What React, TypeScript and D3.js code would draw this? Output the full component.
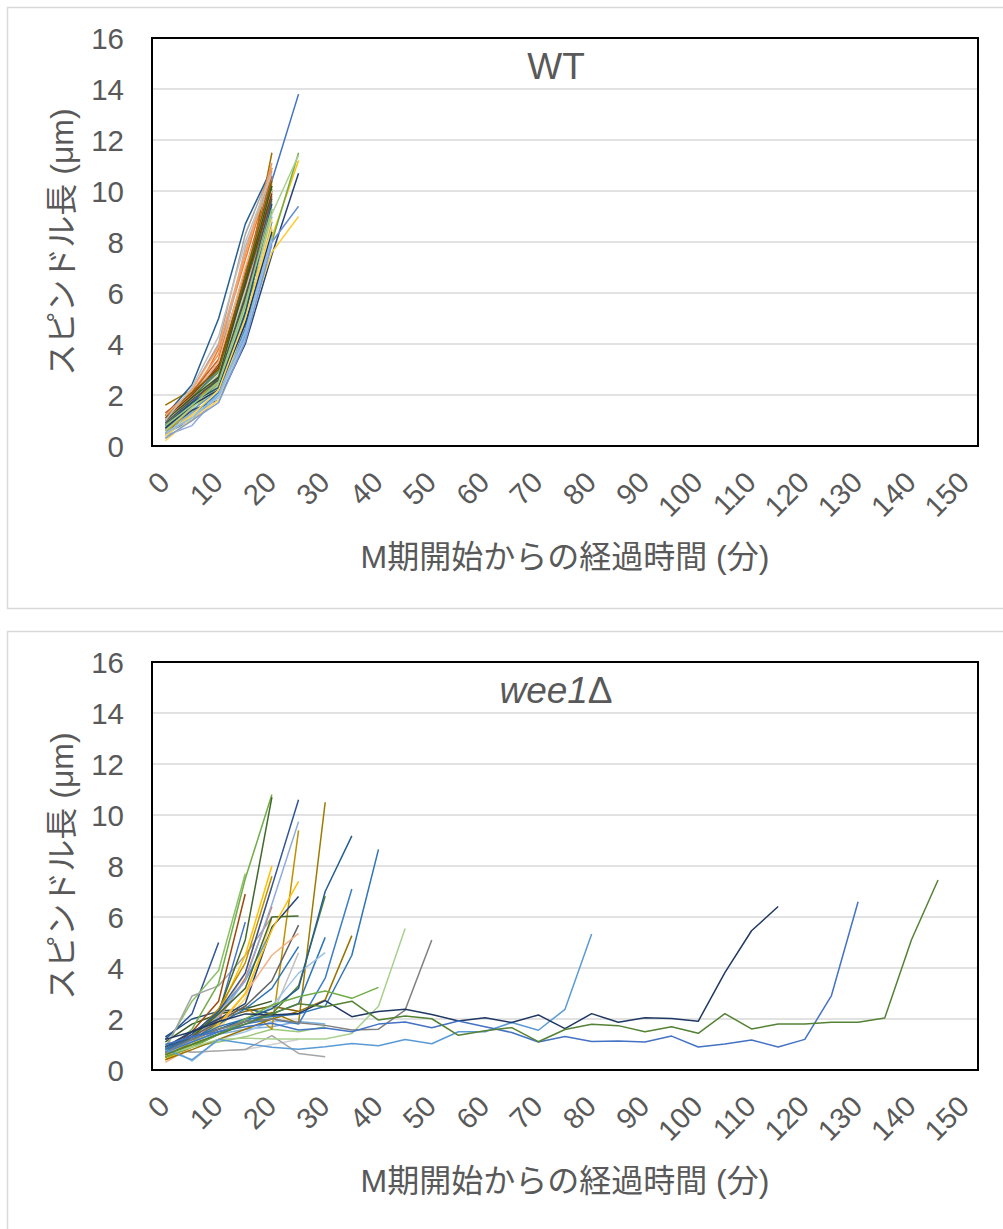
import React from 'react';
import * as d3 from 'd3';

const categories = [0, 5, 10, 15, 20, 25, 30, 35, 40, 45, 50, 55, 60, 65, 70, 75, 80, 85, 90, 95, 100, 105, 110, 115, 120, 125, 130, 135, 140, 145, 150];
const xTickLabels = [0, 10, 20, 30, 40, 50, 60, 70, 80, 90, 100, 110, 120, 130, 140, 150];
const yTicks = [0, 2, 4, 6, 8, 10, 12, 14, 16];

// WT: spindle length (µm) every 5 min from M-phase onset
const wtSeries: number[][] = [
  [0.8, 1.9, 3.0, 6.5, 10.4, 13.8],
  [0.9, 1.8, 3.8, 7.3, 10.8],
  [1.0, 2.2, 4.0, 8.3, 10.9],
  [0.4, 1.3, 2.5, 5.8, 8.2, 11.2],
  [0.6, 1.4, 2.2, 4.8, 9.0],
  [0.7, 1.6, 2.6, 5.5, 8.0, 11.5],
  [0.5, 1.4, 1.8, 4.0, 7.5, 10.7],
  [1.0, 2.0, 3.2, 6.6, 10.2],
  [0.7, 1.7, 2.4, 5.7, 9.3],
  [1.6, 2.2, 3.0, 6.2, 11.5],
  [1.2, 2.4, 5.0, 8.7, 10.9],
  [0.9, 1.8, 2.6, 5.9, 10.0],
  [0.5, 1.0, 2.0, 4.3, 8.0, 9.4],
  [1.1, 2.1, 3.6, 7.5, 11.1],
  [0.8, 1.9, 3.3, 7.8, 10.5],
  [0.3, 1.0, 1.8, 4.5, 7.6, 9.0],
  [0.6, 1.3, 2.0, 4.4, 8.5],
  [0.7, 1.5, 2.3, 5.1, 9.6],
  [0.9, 1.7, 2.7, 5.3, 9.2],
  [1.3, 2.1, 3.4, 6.9, 10.6],
  [0.6, 1.6, 2.5, 5.6, 9.8],
  [0.5, 1.5, 2.8, 6.3, 10.3],
  [0.4, 1.2, 2.1, 4.6, 8.8],
  [0.8, 1.9, 2.9, 6.0, 10.1],
  [0.4, 0.8, 2.0, 5.0, 8.3],
  [1.0, 2.0, 3.3, 7.0, 10.0],
  [0.9, 1.8, 2.8, 6.1, 9.4],
  [0.2, 1.1, 1.8, 4.9, 8.9],
  [0.5, 1.2, 1.9, 4.2, 8.1],
  [0.6, 1.5, 2.4, 5.4, 9.1, 11.4],
  [0.7, 1.6, 2.2, 4.8, 8.4],
  [1.1, 2.0, 3.1, 6.3, 9.9],
  [0.9, 1.8, 2.6, 5.8, 9.7],
  [1.2, 2.1, 3.0, 6.7, 10.4],
  [0.8, 1.7, 2.3, 5.2, 9.5],
  [1.0, 1.9, 2.7, 6.4, 10.2],
  [0.3, 1.0, 1.7, 4.1, 7.9],
  [1.2, 2.2, 3.9, 7.6, 10.9],
  [1.0, 2.3, 4.3, 8.0, 10.7],
  [0.4, 1.2, 2.2, 5.0, 8.6],
  [0.5, 1.1, 2.0, 4.5, 8.2],
  [0.8, 1.6, 2.5, 5.6, 9.3],
];
const wtColors = [
  '#4472C4', '#ED7D31', '#A5A5A5', '#FFC000', '#5B9BD5', '#70AD47',
  '#264478', '#9E480E', '#636363', '#997300', '#255E91', '#43682B',
  '#698ED0', '#F1975A', '#B7B7B7', '#FFCD33', '#7CAFDD', '#8CC168',
  '#365C9E', '#BE6428', '#848484', '#CC9A00', '#327DC2', '#5A8A39',
  '#8FAADC', '#F4B183', '#C9C9C9', '#FFD966', '#9DC3E6', '#A9D18E',
  '#203864', '#843C0C', '#525252', '#7F6000', '#1F4E79', '#385723',
  '#7C9CD6', '#F2A46F', '#C0C0C0', '#FFD34D', '#8CB9E2', '#9BC97B',
];

// wee1Δ
const wee1Series: number[][] = [
  [1.3, 2.0, 2.3, 2.4, 2.2],
  [0.9, 1.5, 2.0, 2.3, 2.5, 2.3],
  [1.1, 1.8, 2.2, 2.4, 2.7],
  [0.7, 1.2, 1.4, 1.6, 1.7, 1.9, 1.8],
  [1.0, 1.3, 1.5, 1.9, 2.0],
  [0.6, 0.9, 1.1, 1.3, 1.6, 1.5, 1.7],
  [0.8, 0.7, 0.75, 0.8, 1.0, 1.2],
  [1.0, 0.35, 1.2, 1.5, 1.9, 1.9],
  [0.9, 0.7, 0.75, 0.8, 1.35, 0.65, 0.52],
  [0.8, 1.2, 1.6, 1.9, 2.1, 4.6],
  [1.2, 2.2, 5.0],
  [0.9, 2.7, 3.9, 7.7],
  [0.8, 2.9, 3.3, 4.5, 6.0],
  [0.7, 1.5, 2.7, 6.9],
  [0.6, 1.3, 2.2, 5.8],
  [0.7, 1.6, 3.4, 7.5, 10.8],
  [0.6, 1.2, 2.3, 5.1, 10.7],
  [0.5, 1.2, 2.2, 4.5, 8.0],
  [0.5, 1.1, 2.0, 3.6, 6.4],
  [0.6, 1.2, 2.1, 3.8, 7.2],
  [0.4, 1.0, 1.6, 2.8, 5.9],
  [0.7, 1.4, 2.3, 3.5, 5.5],
  [0.6, 1.3, 2.4, 4.2, 7.6],
  [0.8, 1.4, 2.3, 3.8, 7.2, 10.6],
  [0.6, 1.2, 2.1, 3.5, 6.5, 9.74],
  [0.5, 1.1, 1.9, 2.5, 1.6, 9.4],
  [0.9, 1.5, 2.0, 2.6, 5.6, 6.8],
  [0.7, 1.3, 2.2, 3.2, 6.0, 6.04],
  [0.8, 1.3, 1.9, 2.5, 3.5, 5.68],
  [0.3, 0.9, 1.7, 3.0, 4.5, 5.36],
  [0.7, 1.2, 1.8, 2.4, 3.2, 4.84],
  [0.4, 1.0, 1.8, 3.0, 5.5, 7.4],
  [0.5, 0.9, 1.4, 1.9, 2.26, 1.83, 10.5],
  [0.6, 1.0, 1.4, 1.8, 2.2, 3.3, 6.82],
  [0.8, 1.2, 1.6, 1.9, 2.2, 2.6, 5.2],
  [0.7, 1.1, 1.5, 1.8, 2.5, 3.8, 4.6],
  [0.9, 1.3, 1.6, 2.0, 2.4, 3.2, 7.0, 9.18],
  [0.7, 1.1, 1.5, 1.8, 2.0, 1.8, 3.6, 7.1],
  [0.4, 0.8, 1.2, 1.6, 2.0, 2.3, 2.75, 5.27],
  [0.8, 1.2, 1.7, 2.0, 2.1, 2.2, 2.5, 4.5, 8.65],
  [0.5, 0.9, 1.4, 2.0, 2.55, 2.87, 3.1, 2.81, 3.24],
  [0.6, 0.9, 1.2, 1.25, 1.22, 1.22, 1.22, 1.43, 2.5, 5.55],
  [0.7, 1.2, 1.6, 1.9, 2.0, 1.85, 1.75, 1.57, 1.6, 2.35, 5.1],
  [0.8, 0.4, 1.2, 1.04, 0.89, 0.81, 0.91, 1.04, 0.95, 1.2, 1.03, 1.5, 1.5, 1.86, 1.56, 2.38, 5.33],
  [1.2, 1.5, 1.9, 2.2, 2.16, 2.22, 2.72, 2.09, 2.29, 2.38, 2.18, 1.92, 2.05, 1.86, 2.16, 1.62, 2.21, 1.87, 2.05, 2.02, 1.91, 3.82, 5.46, 6.41],
  [1.0, 1.3, 1.5, 1.7, 1.83, 1.57, 1.65, 1.5, 1.80, 1.88, 1.66, 1.92, 1.70, 1.47, 1.10, 1.31, 1.12, 1.14, 1.10, 1.33, 0.90, 1.02, 1.18, 0.90, 1.20, 2.92, 6.60],
  [0.6, 1.0, 1.4, 1.8, 2.2, 2.6, 2.48, 2.7, 1.96, 2.12, 2.01, 1.36, 1.54, 1.66, 1.11, 1.59, 1.79, 1.74, 1.50, 1.70, 1.44, 2.21, 1.61, 1.80, 1.80, 1.87, 1.87, 2.04, 5.1, 7.45],
];
const wee1Colors = [
  '#1F4E79', '#7F6000', '#385723', '#7CAFDD', '#C9C9C9', '#9BC97B',
  '#D0D0D0', '#9DC3E6', '#A5A5A5', '#BFBFBF', '#2F5597', '#8CC168',
  '#A5A5A5', '#9E480E', '#4472C4', '#70AD47', '#43682B', '#FFC000',
  '#ED7D31', '#F4B183', '#FFD966', '#5B9BD5', '#BF9000', '#2F5597',
  '#8FAADC', '#BF9000', '#264478', '#43682B', '#636363', '#F4B183',
  '#2E75B6', '#FFC000', '#9C7A00', '#548235', '#2E75B6', '#9DC3E6',
  '#255E91', '#3D7CC9', '#997300', '#2E75B6', '#70AD47', '#A9D18E',
  '#7F7F7F', '#5B9BD5', '#203864', '#4472C4', '#548235',
];

const FONT = '"Liberation Sans", Arial, "Noto Sans CJK JP", sans-serif';
const TEXT = '#595959';
const PLOT_LEFT = 152;
const PLOT_RIGHT = 978;
const PLOT_H = 408;

function Panel({ top, series, colors, title }: { top: number; series: number[][]; colors: string[]; title: React.ReactNode }) {
  const plotTop = top + 31;
  const plotBottom = plotTop + PLOT_H;
  const x = d3.scalePoint<number>().domain(categories).range([PLOT_LEFT, PLOT_RIGHT]).padding(0.5);
  const y = d3.scaleLinear().domain([0, 16]).range([plotBottom, plotTop]);
  const line = d3.line<number>().x((_, i) => x(categories[i]) as number).y((d) => y(d));
  const midY = (plotTop + plotBottom) / 2;
  return (
    <g>
      <rect x={7.5} y={top + 0.5} width={1010} height={601} fill="#fff" stroke="#D9D9D9" strokeWidth={1.5} />
      {yTicks.filter((t) => t > 0 && t < 16).map((t) => (
        <line key={t} x1={PLOT_LEFT} x2={PLOT_RIGHT} y1={y(t)} y2={y(t)} stroke="#D9D9D9" strokeWidth={1.5} />
      ))}
      {series.map((s, i) => (
        <path key={i} d={line(s) as string} fill="none" stroke={colors[i % colors.length]} strokeWidth={1.5} strokeLinejoin="round" />
      ))}
      <rect x={PLOT_LEFT} y={plotTop} width={PLOT_RIGHT - PLOT_LEFT} height={PLOT_H} fill="none" stroke="#000" strokeWidth={2} />
      {yTicks.map((t) => (
        <text key={t} x={124} y={y(t)} dy="0.36em" textAnchor="end" fontSize={29.5} fill={TEXT} fontFamily={FONT}>{t}</text>
      ))}
      {xTickLabels.map((t) => {
        const px = (x(t) as number) - 1;
        const py = plotBottom + 31;
        return (
          <text key={t} x={px} y={py} dy="0.35em" textAnchor="end" fontSize={29} fill={TEXT} fontFamily={FONT}
            transform={`rotate(-45 ${px} ${py})`}>{t}</text>
        );
      })}
      <text x={62} y={midY} dy="0.35em" textAnchor="middle" fontSize={32} fill={TEXT} fontFamily={FONT}
        transform={`rotate(-90 62 ${midY})`}>スピンドル長 (μm)</text>
      <text x={565} y={plotBottom + 111} dy="0.35em" textAnchor="middle" fontSize={32} fill={TEXT} fontFamily={FONT}>M期開始からの経過時間 (分)</text>
      <text x={556} y={top + 72} textAnchor="middle" fontSize={37} fill={TEXT} fontFamily={FONT}>{title}</text>
    </g>
  );
}

export default function App() {
  return (
    <svg width={1003} height={1229} style={{ position: 'absolute', left: 0, top: 0, background: '#fff' }}>
      <rect x={0} y={0} width={1003} height={1229} fill="#fff" />
      <Panel top={7} series={wtSeries} colors={wtColors} title="WT" />
      <Panel top={631} series={wee1Series} colors={wee1Colors}
        title={<><tspan fontStyle="italic">wee1</tspan><tspan>Δ</tspan></>} />
    </svg>
  );
}
